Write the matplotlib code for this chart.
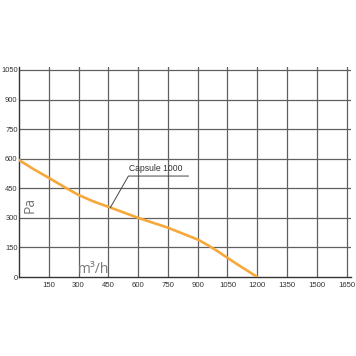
import matplotlib
matplotlib.use("Agg")
import matplotlib.pyplot as plt

flow = [0, 75, 150, 225, 300, 375, 450, 525, 600, 675, 750, 825, 900, 950, 1000, 1050, 1100, 1150, 1200]
pressure = [593, 546, 503, 458, 416, 383, 356, 328, 300, 275, 250, 220, 190, 162, 131, 97, 64, 32, 0]
xticks = [150, 300, 450, 600, 750, 900, 1050, 1200, 1350, 1500, 1650]
yticks = [0, 150, 300, 450, 600, 750, 900, 1050]
series_label = "Capsule 1000"

plt.rcParams["font.family"] = ["Liberation Sans", "DejaVu Sans"]

fig = plt.figure(figsize=(3.56, 3.56), dpi=100)
ax = fig.add_axes([19/356, 1-277/356, 332/356, 210/356])
ax.set_xlim(0, 1672)
ax.set_ylim(0, 1065)

grid_c = "#606060"
for x in xticks:
    ax.axvline(x, color=grid_c, lw=0.9, zorder=1)
for y in yticks[1:]:
    ax.axhline(y, color=grid_c, lw=0.9, zorder=1)

ax.plot(flow, pressure, color="#f7a83a", lw=1.9, solid_capstyle="round",
        solid_joinstyle="round", zorder=3)

for s in ["top", "right"]:
    ax.spines[s].set_visible(False)
for s in ["left", "bottom"]:
    ax.spines[s].set_color("#333333")
    ax.spines[s].set_linewidth(1.0)

ax.set_xticks(xticks)
ax.set_xticklabels([str(v) for v in xticks], fontsize=5.6, color="#333333")
ax.set_yticks(yticks)
ax.set_yticklabels([str(v) for v in yticks], fontsize=5.4, color="#333333")
ax.tick_params(axis="x", length=0, pad=3.5)
ax.tick_params(axis="y", length=0, pad=1.0)

# annotation
ax.plot([460, 551, 853], [352, 512, 512], color="#444444", lw=0.7, zorder=4)
ax.text(555, 525, series_label, fontsize=6.2, color="#333333", ha="left", va="bottom", zorder=4)

ax.text(58, 365, "Pa", fontsize=10, color="#777777", rotation=90, ha="center", va="center",
        family=["Open Sans", "DejaVu Sans"])
ax.text(375, 38, "m³/h", fontsize=10, color="#777777", ha="center", va="center",
        family=["Open Sans", "DejaVu Sans"])

fig.savefig("out.png", dpi=100)
